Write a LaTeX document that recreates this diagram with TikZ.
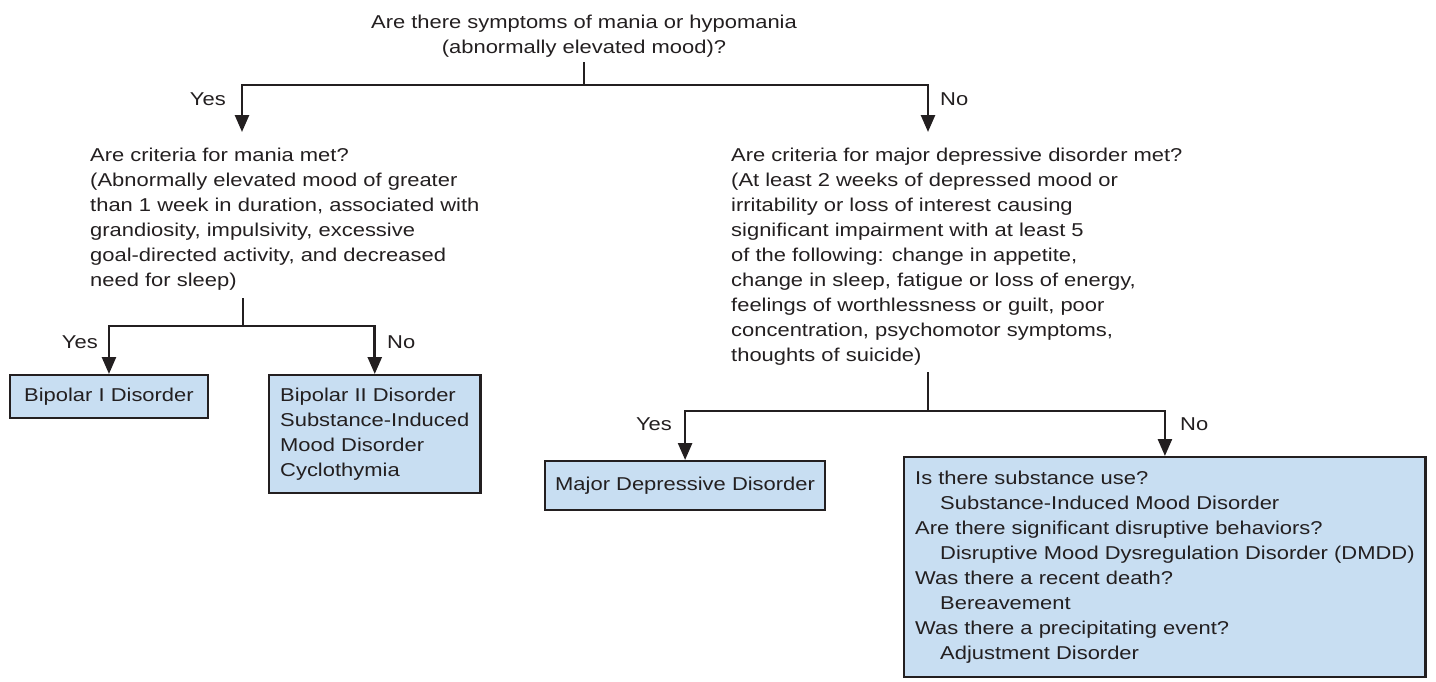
\documentclass[tikz,border=0pt]{standalone}
\usepackage{fontspec}
\setmainfont{Liberation Sans}[FakeStretch=1.18]
\usetikzlibrary{arrows.meta}
\definecolor{ink}{HTML}{231F20}
\definecolor{boxfill}{HTML}{C8DEF2}
\begin{document}
\begin{tikzpicture}[x=1pt,y=-1pt,
  every node/.style={font=\fontsize{18.6}{25}\selectfont, text=ink},
  txt/.style={inner sep=0pt, align=left},
  lbl/.style={inner sep=0pt},
  box/.style={draw=ink, line width=2.4pt, fill=boxfill, align=left, inner xsep=11pt, inner ysep=0pt, anchor=north west},
  conn/.style={draw=ink, line width=2.6pt},
  arr/.style={conn, -{Triangle[length=17pt,width=14pt]}}]
\useasboundingbox (0,0) rectangle (1436,681);

% questions (base anchor = baseline of last line)
\node[txt, align=center, anchor=base] (q0) at (584,53) {Are there symptoms of mania or hypomania\\(abnormally elevated mood)?};
\node[txt, anchor=base west] (q1) at (90,286) {Are criteria for mania met?\\
(Abnormally elevated mood of greater\\
than 1 week in duration, associated with\\
grandiosity, impulsivity, excessive\\
goal-directed activity, and decreased\\
need for sleep)};
\node[txt, anchor=base west] (q2) at (731,361) {Are criteria for major depressive disorder met?\\
(At least 2 weeks of depressed mood or\\
irritability or loss of interest causing\\
significant impairment with at least 5\\
of the following: change in appetite,\\
change in sleep, fatigue or loss of energy,\\
feelings of worthlessness or guilt, poor\\
concentration, psychomotor symptoms,\\
thoughts of suicide)};

% outcome boxes
\node[box, inner xsep=14pt, minimum height=43pt] (bp1) at (9,374) {Bipolar I Disorder};
\node[box, minimum height=118pt] (bp2) at (268,374) {Bipolar II Disorder\\Substance-Induced\\Mood Disorder\\Cyclothymia};
\node[box, inner xsep=10pt, minimum height=49pt] (mdd) at (544,460) {Major Depressive Disorder};
\node[box, inner xsep=11pt, minimum height=220pt] (rb) at (903,456) {Is there substance use?\\
\hspace*{25pt}Substance-Induced Mood Disorder\\
Are there significant disruptive behaviors?\\
\hspace*{25pt}Disruptive Mood Dysregulation Disorder (DMDD)\\
Was there a recent death?\\
\hspace*{25pt}Bereavement\\
Was there a precipitating event?\\
\hspace*{25pt}Adjustment Disorder};

% junction coordinates
\coordinate (s0) at (584,62);
\coordinate (b0) at (584,85);
\coordinate (q1in) at (242,132);
\coordinate (q2in) at (928,132);
\coordinate (s1) at (243,298);
\coordinate (b1) at (243,326);
\coordinate (s2) at (928,372);
\coordinate (b2) at (928,411);

% connectors
\draw[conn] (s0) -- (b0);
\draw[arr] (b0) -| (q1in);
\draw[arr] (b0) -| (q2in);
\draw[conn] (s1) -- (b1);
\draw[arr] (b1) -| (bp1.north);
\draw[arr] (b1) -| (bp2.north);
\draw[conn] (s2) -- (b2);
\draw[arr] (b2) -| (mdd.north);
\draw[arr] (b2) -| (rb.north);

% labels
\node[lbl, anchor=base east] (y0) at (226,105) {Yes};
\node[lbl, anchor=base west] (n0) at (940,105) {No};
\node[lbl, anchor=base east] (y1) at (98,348) {Yes};
\node[lbl, anchor=base west] (n1) at (387,348) {No};
\node[lbl, anchor=base east] (y2) at (672,430) {Yes};
\node[lbl, anchor=base west] (n2) at (1180,430) {No};
\end{tikzpicture}
\end{document}
